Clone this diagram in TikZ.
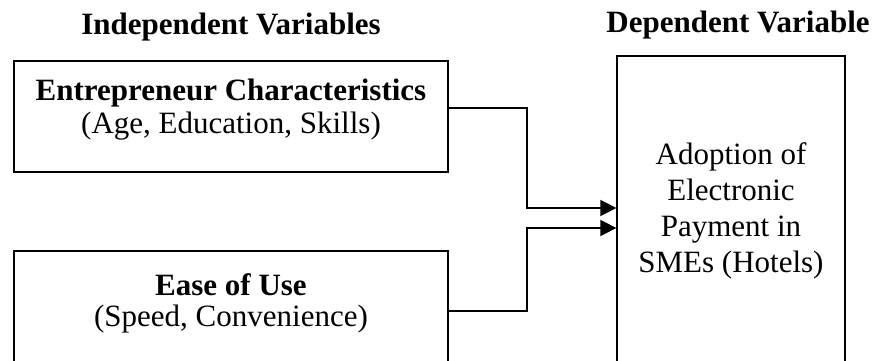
\documentclass[tikz,border=0pt]{standalone}
\usepackage{fontspec}
\setmainfont{Liberation Serif}
\usetikzlibrary{arrows.meta,positioning}
\begin{document}
\begin{tikzpicture}[x=1pt,y=1pt,
  box/.style={draw=black,line width=1.3pt,inner sep=0pt,rectangle},
  txt/.style={font=\fontsize{31}{33}\selectfont,align=center,inner sep=0pt},
  head/.style={font=\fontsize{31}{33}\selectfont\bfseries,inner sep=0pt},
  link/.style={line width=1.6pt,-{Triangle[length=16pt,width=16pt]}}]
\useasboundingbox (0,0) rectangle (876,360);
\clip (0,0) rectangle (876,360);
% headings
\node[head] (hind) at (231,333) {Independent Variables};
\node[head] (hdep) at (738,335) {Dependent Variable};
% boxes
\node[box,minimum width=434pt,minimum height=111pt] (b1) at (231,243.5) {};
\node[box,minimum width=434pt,minimum height=121pt] (b2) at (231,48.5) {};
\node[box,minimum width=228pt,minimum height=308pt] (b3) at (731,150) {};
% box texts
\node[txt] (t1) at (231,250) {\textbf{Entrepreneur Characteristics}\\(Age, Education, Skills)};
\node[txt,font=\fontsize{31}{31}\selectfont] (t2) at (231,57) {\textbf{Ease of Use}\\(Speed, Convenience)};
\node[txt,font=\fontsize{31}{36}\selectfont] (t3) at (731,149) {Adoption of\\Electronic\\Payment in\\SMEs (Hotels)};
% connectors
\coordinate (k1) at (527,0);
\draw[link] ([yshift=8.5pt]b1.east) -| ([yshift=2pt]b3.west -| k1) -- ([yshift=2pt]b3.west);
\draw[link] ([yshift=0.5pt]b2.east) -| ([yshift=-18pt]b3.west -| k1) -- ([yshift=-18pt]b3.west);
\end{tikzpicture}
\end{document}
